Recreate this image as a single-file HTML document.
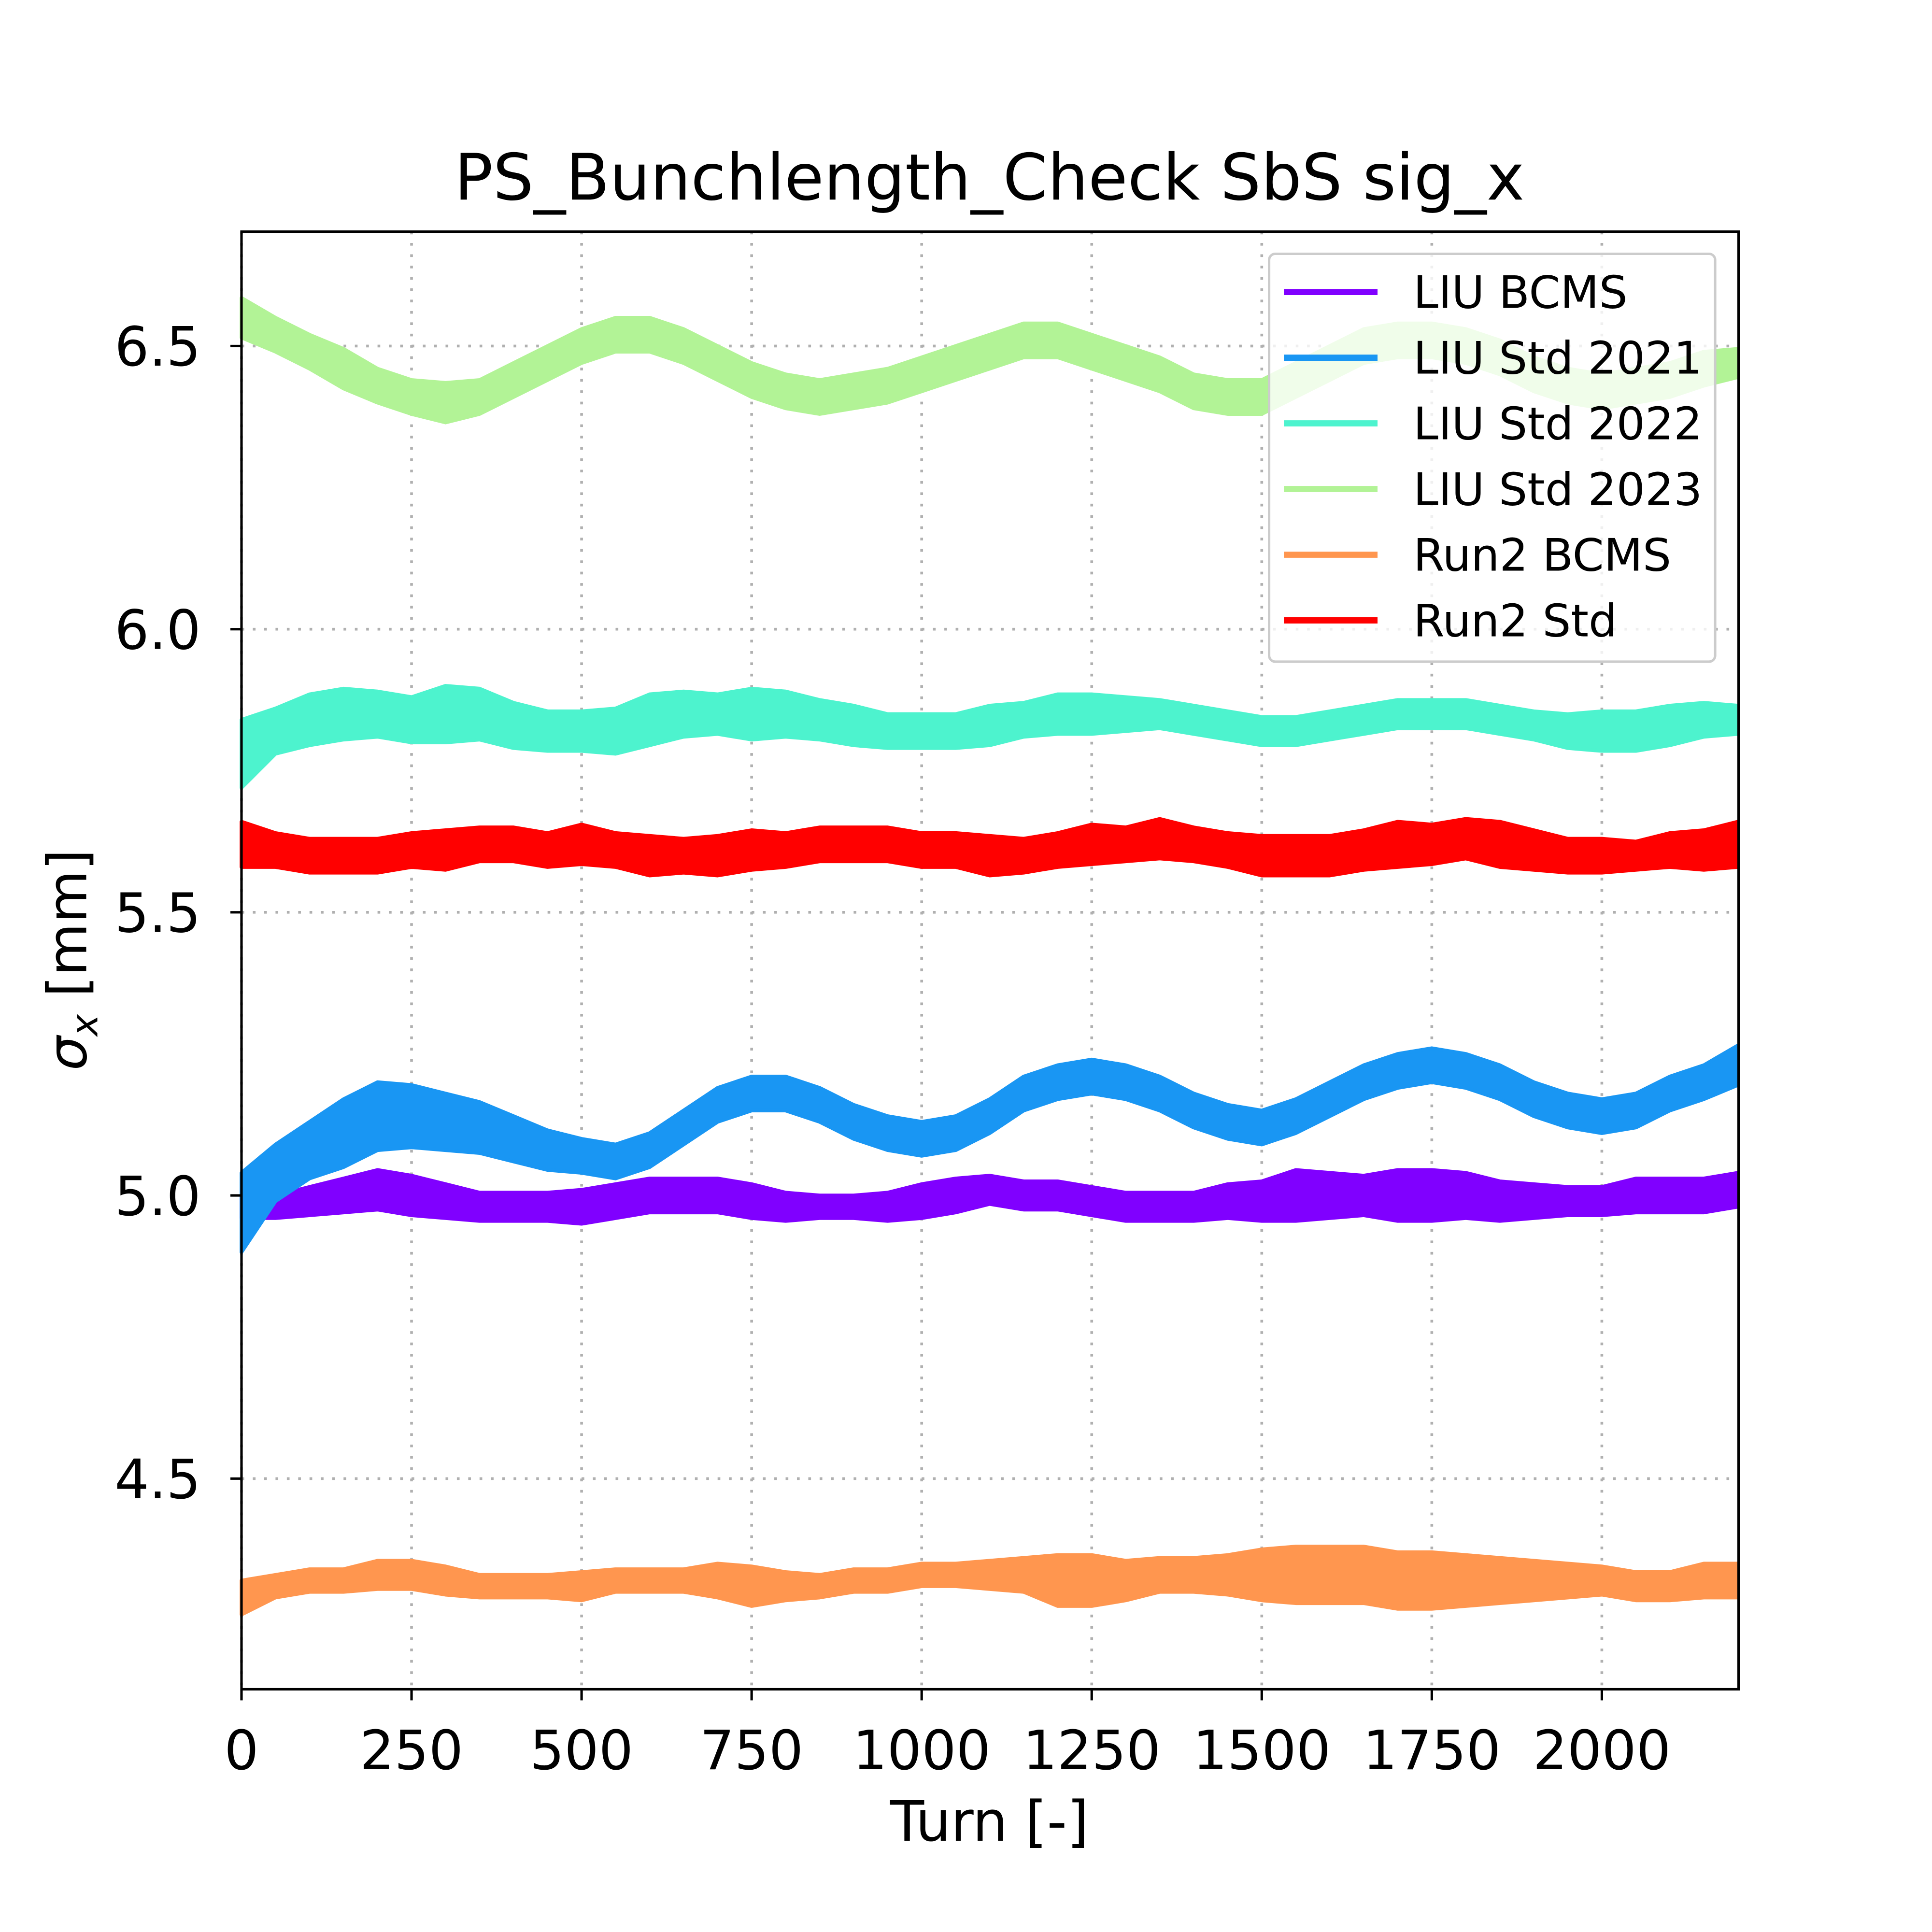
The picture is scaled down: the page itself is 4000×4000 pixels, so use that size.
<!DOCTYPE html>
<html><head><meta charset="utf-8"><title>PS_Bunchlength_Check SbS sig_x</title>
<style>html,body{margin:0;padding:0;background:#fff}svg{display:block}</style></head>
<body>
<svg id="chart" xmlns="http://www.w3.org/2000/svg" width="4000" height="4000" viewBox="0 0 1568 1568" font-family="'DejaVu Sans','Liberation Sans',sans-serif">
<rect x="0" y="0" width="1568" height="1568" fill="#fff"/>
<g id="grid"></g>
<g id="series"></g>
<rect x="196" y="188" width="1215" height="1183" fill="none" stroke="#000" stroke-width="2"/>
<g id="ticks"></g>
<text x="803" y="162" font-size="52" text-anchor="middle">PS_Bunchlength_Check SbS sig_x</text>
<text x="803" y="1494" font-size="45" text-anchor="middle">Turn [-]</text>
<text transform="translate(70,779) rotate(-90)" font-size="44" text-anchor="middle"><tspan font-style="italic">σ</tspan><tspan font-style="italic" font-size="30" dy="9">x</tspan><tspan dy="-9"> [mm]</tspan></text>
<g id="legend"></g>
</svg>
<script>
const turns = [0,50,100,150,200,250,300,350,400,450,500,550,600,650,700,750,800,850,900,950,1000,1050,1100,1150,1200,1250,1300,1350,1400,1450,1500,1550,1600,1650,1700,1750,1800,1850,1900,1950,2000,2050,2100,2150,2200];
const liuBcms = [4.98,4.98,4.99,5.00,5.01,5.00,4.99,4.98,4.98,4.98,4.98,4.99,5.00,5.00,5.00,4.99,4.98,4.98,4.98,4.98,4.99,5.00,5.01,5.00,5.00,4.99,4.98,4.98,4.98,4.99,4.99,5.00,5.00,5.00,5.00,5.00,5.00,4.99,4.99,4.99,4.99,5.00,5.00,5.00,5.01];
const liuBcmsHw = [0.02,0.02,0.025,0.03,0.035,0.035,0.03,0.025,0.025,0.025,0.03,0.03,0.03,0.03,0.03,0.03,0.025,0.02,0.02,0.025,0.03,0.03,0.025,0.025,0.025,0.025,0.025,0.025,0.025,0.03,0.035,0.045,0.04,0.035,0.045,0.045,0.04,0.035,0.03,0.025,0.025,0.03,0.03,0.03,0.03];
const liuStd2021 = [4.97,5.04,5.08,5.11,5.14,5.14,5.13,5.12,5.10,5.08,5.07,5.06,5.08,5.12,5.16,5.18,5.18,5.16,5.13,5.11,5.10,5.11,5.14,5.18,5.20,5.21,5.20,5.18,5.15,5.13,5.12,5.14,5.17,5.20,5.22,5.23,5.22,5.20,5.17,5.15,5.14,5.15,5.18,5.20,5.23];
const liuStd2021Hw = [0.07,0.05,0.05,0.06,0.06,0.055,0.05,0.045,0.04,0.035,0.03,0.03,0.03,0.03,0.03,0.03,0.03,0.03,0.03,0.03,0.03,0.03,0.03,0.03,0.03,0.03,0.03,0.03,0.03,0.03,0.03,0.03,0.03,0.03,0.03,0.03,0.03,0.03,0.03,0.03,0.03,0.03,0.03,0.03,0.035];
const liuStd2022 = [5.78,5.82,5.84,5.85,5.85,5.84,5.85,5.85,5.83,5.82,5.82,5.82,5.84,5.85,5.85,5.85,5.85,5.84,5.83,5.82,5.82,5.82,5.83,5.84,5.85,5.85,5.85,5.85,5.84,5.83,5.82,5.82,5.83,5.84,5.85,5.85,5.85,5.84,5.83,5.82,5.82,5.82,5.83,5.84,5.84];
const liuStd2022Hw = [0.06,0.04,0.045,0.045,0.04,0.04,0.05,0.045,0.04,0.035,0.035,0.04,0.045,0.04,0.035,0.045,0.04,0.035,0.035,0.03,0.03,0.03,0.035,0.03,0.035,0.035,0.03,0.025,0.025,0.025,0.025,0.025,0.025,0.025,0.025,0.025,0.025,0.025,0.025,0.03,0.035,0.035,0.035,0.03,0.025];
const liuStd2023 = [6.55,6.52,6.49,6.46,6.43,6.41,6.40,6.41,6.44,6.47,6.50,6.52,6.52,6.50,6.47,6.44,6.42,6.41,6.42,6.43,6.45,6.47,6.49,6.51,6.51,6.49,6.47,6.45,6.42,6.41,6.41,6.44,6.47,6.50,6.51,6.51,6.50,6.48,6.45,6.43,6.42,6.43,6.44,6.46,6.47];
const liuStd2023Hw = [0.035,0.03,0.03,0.035,0.03,0.03,0.035,0.03,0.03,0.03,0.03,0.03,0.03,0.03,0.03,0.03,0.03,0.03,0.03,0.03,0.03,0.03,0.03,0.03,0.03,0.03,0.03,0.03,0.03,0.03,0.03,0.03,0.03,0.03,0.03,0.03,0.03,0.03,0.03,0.03,0.03,0.03,0.03,0.03,0.025];
const run2Bcms = [4.29,4.31,4.32,4.32,4.33,4.33,4.32,4.31,4.31,4.31,4.31,4.32,4.32,4.32,4.32,4.31,4.31,4.31,4.32,4.32,4.33,4.33,4.33,4.33,4.32,4.32,4.32,4.33,4.33,4.33,4.33,4.33,4.33,4.33,4.32,4.32,4.32,4.32,4.32,4.32,4.32,4.31,4.31,4.32,4.32];
const run2BcmsHw = [0.03,0.02,0.02,0.02,0.025,0.025,0.025,0.02,0.02,0.02,0.025,0.02,0.02,0.02,0.03,0.035,0.025,0.02,0.02,0.02,0.02,0.02,0.025,0.03,0.045,0.045,0.035,0.03,0.03,0.035,0.045,0.05,0.05,0.05,0.05,0.05,0.045,0.04,0.035,0.03,0.025,0.025,0.025,0.03,0.03];
const run2Std = [5.62,5.61,5.60,5.60,5.60,5.61,5.61,5.62,5.62,5.61,5.62,5.61,5.60,5.60,5.60,5.61,5.61,5.62,5.62,5.62,5.61,5.61,5.60,5.60,5.61,5.62,5.62,5.63,5.62,5.61,5.60,5.60,5.60,5.61,5.62,5.62,5.63,5.62,5.61,5.60,5.60,5.60,5.61,5.61,5.62];
const run2StdHw = [0.04,0.03,0.03,0.03,0.03,0.03,0.035,0.03,0.03,0.03,0.035,0.03,0.035,0.03,0.035,0.035,0.03,0.03,0.03,0.03,0.03,0.03,0.035,0.03,0.03,0.035,0.03,0.035,0.03,0.03,0.035,0.035,0.035,0.035,0.04,0.035,0.035,0.04,0.035,0.03,0.03,0.025,0.03,0.035,0.04];
const xTicks = [0,250,500,750,1000,1250,1500,1750,2000];
const yTicks = [4.5,5.0,5.5,6.0,6.5];
const yTickLabels = ["4.5","5.0","5.5","6.0","6.5"];
const legendLabels = ["LIU BCMS","LIU Std 2021","LIU Std 2022","LIU Std 2023","Run2 BCMS","Run2 Std"];
const legendColors = ["#8000ff","#1996f3","#4df3ce","#b2f396","#ff964f","#ff0000"];

const NS = "http://www.w3.org/2000/svg";
const X0=196, X1=1411, Y0=188, Y1=1371;
const xMin=0, xMax=2201, yMin=4.128, yMax=6.702;
function sx(v){return X0+(v-xMin)/(xMax-xMin)*(X1-X0);}
function sy(v){return Y1-(v-yMin)/(yMax-yMin)*(Y1-Y0);}
function mk(tag, attrs, parent){const e=document.createElementNS(NS,tag);for(const k in attrs)e.setAttribute(k,attrs[k]);parent.appendChild(e);return e;}

const grid=document.getElementById('grid');
xTicks.forEach(t=>{
  const l=mk('line',{x1:sx(t),x2:sx(t),y1:Y0,y2:Y1,stroke:'#b0b0b0','stroke-width':2.2,'stroke-dasharray':'2.2,7'},grid);
  
  
});
yTicks.forEach(t=>{
  const l=mk('line',{x1:X0,x2:X1,y1:sy(t),y2:sy(t),stroke:'#b0b0b0','stroke-width':2.2,'stroke-dasharray':'2.2,7'},grid);
  
  
});

const ser=document.getElementById('series');
function band(vals,hw,color,name){
  let up=[],dn=[];
  for(let i=0;i<turns.length;i++){up.push(sx(turns[i])+','+sy(vals[i]+hw[i]));dn.push(sx(turns[i])+','+sy(vals[i]-hw[i]));}
  const p=mk('polygon',{points:up.concat(dn.reverse()).join(' '),fill:color,stroke:color,'stroke-width':3,'stroke-linejoin':'round'},ser);
  
  
}
band(liuBcms,liuBcmsHw,legendColors[0],'series-liu-bcms');
band(liuStd2021,liuStd2021Hw,legendColors[1],'series-liu-std-2021');
band(liuStd2022,liuStd2022Hw,legendColors[2],'series-liu-std-2022');
band(liuStd2023,liuStd2023Hw,legendColors[3],'series-liu-std-2023');
band(run2Bcms,run2BcmsHw,legendColors[4],'series-run2-bcms');
band(run2Std,run2StdHw,legendColors[5],'series-run2-std');

const tk=document.getElementById('ticks');
xTicks.forEach(t=>{
  const l=mk('line',{x1:sx(t),x2:sx(t),y1:Y1,y2:Y1+9,stroke:'#000','stroke-width':2},tk);
  
  
  const tx=mk('text',{x:sx(t),y:Y1+65,'font-size':44,'text-anchor':'middle'},tk);
  tx.textContent=String(t);
  
  
});
yTicks.forEach((t,i)=>{
  const l=mk('line',{x1:X0-9,x2:X0,y1:sy(t),y2:sy(t),stroke:'#000','stroke-width':2},tk);
  
  
  const tx=mk('text',{x:X0-33,y:sy(t)+16,'font-size':44,'text-anchor':'end'},tk);
  tx.textContent=yTickLabels[i];
  
  
});

const lg=document.getElementById('legend');
const box=mk('rect',{x:1030,y:206,width:362,height:331,rx:5,fill:'#fff','fill-opacity':0.8,stroke:'#cccccc','stroke-width':2},lg);


legendLabels.forEach((lab,i)=>{
  const y=237+i*53.3;
  const l=mk('line',{x1:1042,x2:1118,y1:y,y2:y,stroke:legendColors[i],'stroke-width':5},lg);
  
  
  const tx=mk('text',{x:1147,y:y+13,'font-size':36.5},lg);
  tx.textContent=lab;
  
  
});
</script>
</body></html>
